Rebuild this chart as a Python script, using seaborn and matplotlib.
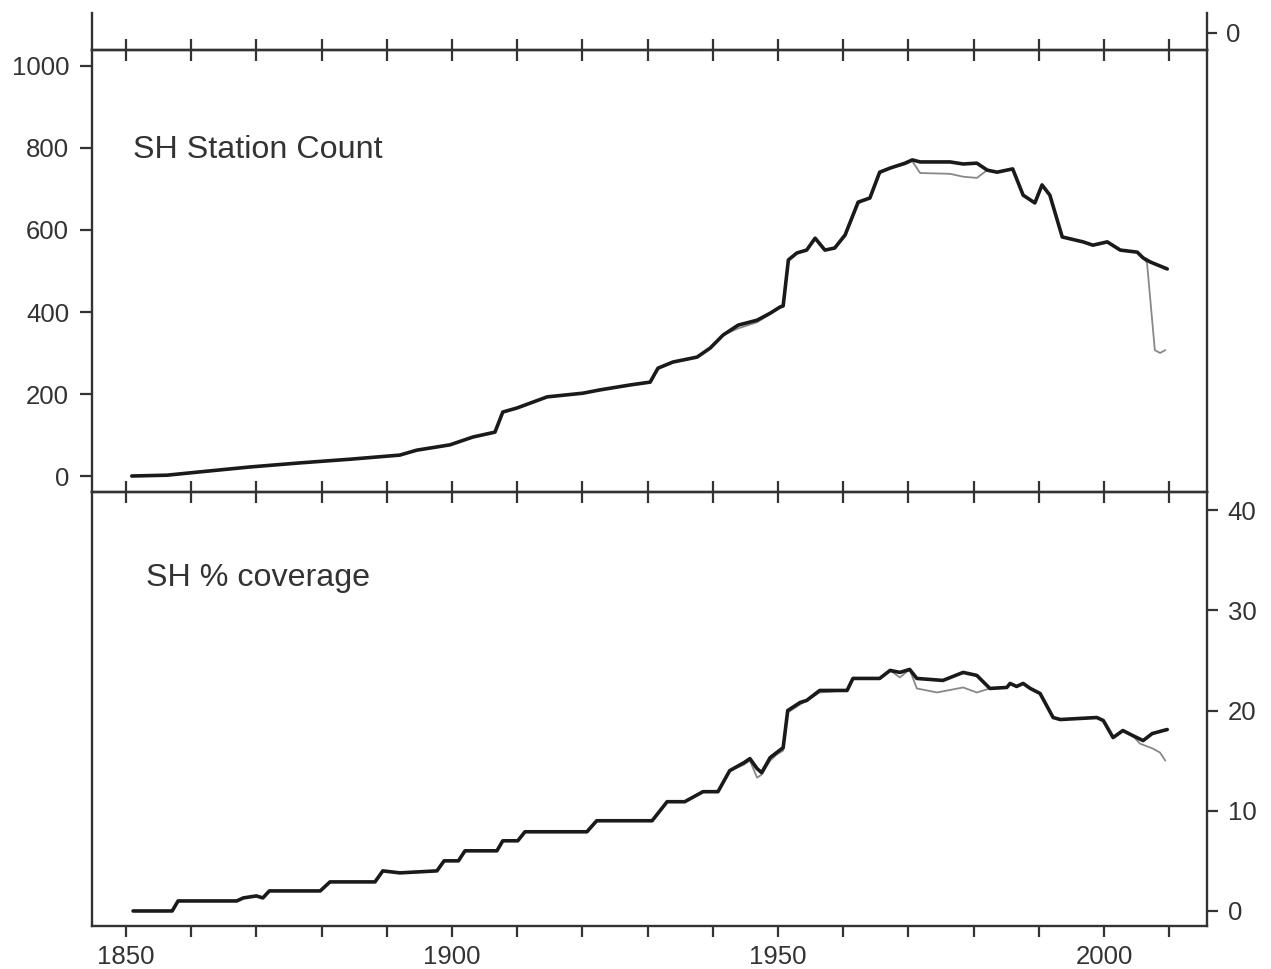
import matplotlib
matplotlib.use("Agg")
import matplotlib.pyplot as plt
import seaborn as sns
import pandas as pd
from matplotlib.ticker import FixedLocator, FuncFormatter

# ---------------- data ----------------
count_years = [1850.9, 1856.3, 1861.3, 1869.0, 1876.7, 1884.4, 1892.0, 1894.6, 1899.7, 1903.2,
               1906.6, 1907.8, 1910.0, 1914.6, 1920.1, 1922.7, 1927.3, 1930.4, 1931.6, 1933.9,
               1937.6, 1939.6, 1941.6, 1943.9, 1946.8, 1948.8, 1950.3, 1950.8, 1951.6, 1952.9,
               1954.4, 1955.7, 1957.2, 1958.7, 1960.3, 1962.3, 1964.1, 1965.6, 1967.2, 1969.5,
               1970.6, 1971.8, 1976.4, 1978.4, 1980.5, 1982.1, 1983.6, 1986.0, 1987.6, 1989.4,
               1990.5, 1991.7, 1993.6, 1996.8, 1998.3, 2000.5, 2002.5, 2005.1, 2006.0, 2007.1,
               2009.7]
count_black = [0, 2, 10, 22, 32, 41, 51, 63, 76, 95,
               107, 156, 166, 193, 202, 210, 222, 229, 263, 278,
               290, 312, 344, 368, 380, 397, 412, 415, 527, 544,
               551, 580, 551, 556, 588, 668, 678, 741, 751, 763,
               771, 766, 766, 761, 763, 746, 741, 749, 685, 666,
               710, 685, 583, 571, 563, 571, 551, 546, 532, 522,
               505]

gray_count_years = [1850.9, 1856.3, 1861.3, 1869.0, 1876.7, 1884.4, 1892.0, 1894.6, 1899.7, 1903.2,
                    1906.6, 1907.8, 1910.0, 1914.6, 1920.1, 1922.7, 1927.3, 1930.4, 1931.6, 1933.9,
                    1937.6, 1939.6, 1941.6, 1943.9, 1946.8, 1948.8, 1950.3, 1950.8, 1951.6, 1952.9,
                    1954.4, 1955.7, 1957.2, 1958.7, 1960.3, 1962.3, 1964.1, 1965.6, 1967.2, 1969.5,
                    1970.6, 1971.8, 1976.4, 1978.4, 1980.5, 1982.1, 1983.6, 1986.0, 1987.6, 1989.4,
                    1990.5, 1991.7, 1993.6, 1996.8, 1998.3, 2000.5, 2002.5, 2005.1, 2006.0, 2006.6,
                    2007.8, 2008.6, 2009.4]
count_gray = [0, 2, 10, 22, 32, 41, 51, 63, 76, 95,
              107, 156, 166, 193, 202, 210, 222, 229, 263, 278,
              290, 312, 344, 360, 375, 395, 410, 413, 527, 544,
              551, 578, 551, 556, 585, 665, 678, 738, 751, 760,
              768, 739, 737, 730, 727, 746, 741, 749, 685, 666,
              710, 685, 583, 571, 563, 571, 551, 546, 532, 520,
              307, 300, 307]

cov_years = [1851.1, 1857.1, 1858.0, 1867.0, 1868.0, 1870.0, 1871.0, 1872.0, 1879.8, 1881.3,
             1888.2, 1889.4, 1892.0, 1897.7, 1898.8, 1901.0, 1902.0, 1906.9, 1907.8, 1910.1,
             1911.2, 1920.7, 1922.2, 1930.7, 1933.0, 1935.7, 1938.5, 1940.8, 1942.6, 1944.8,
             1945.7, 1946.8, 1947.5, 1948.8, 1949.8, 1950.8, 1951.5, 1953.4, 1954.4, 1956.4,
             1960.6, 1961.5, 1965.6, 1967.2, 1968.7, 1970.2, 1971.3, 1975.3, 1978.4, 1980.5,
             1982.5, 1985.1, 1985.6, 1986.6, 1987.6, 1988.7, 1990.2, 1992.2, 1993.3, 1998.9,
             1999.9, 2001.4, 2002.9, 2004.4, 2006.0, 2007.4, 2009.1, 2009.7]
cov_black = [0, 0, 1.0, 1.0, 1.3, 1.5, 1.3, 2.0, 2.0, 2.9,
             2.9, 4.0, 3.8, 4.0, 5.0, 5.0, 6.0, 6.0, 7.0, 7.0,
             7.9, 7.9, 9.0, 9.0, 10.9, 10.9, 11.9, 11.9, 14.0, 14.8,
             15.2, 14.2, 13.8, 15.3, 15.8, 16.3, 20.0, 20.8, 21.0, 22.0,
             22.0, 23.2, 23.2, 24.0, 23.8, 24.1, 23.2, 23.0, 23.8, 23.5,
             22.2, 22.3, 22.7, 22.4, 22.7, 22.2, 21.7, 19.3, 19.1, 19.3,
             19.0, 17.3, 18.0, 17.5, 17.0, 17.7, 18.0, 18.1]

gray_cov_years = [1851.1, 1857.1, 1858.0, 1867.0, 1868.0, 1870.0, 1871.0, 1872.0, 1879.8, 1881.3,
                  1888.2, 1889.4, 1892.0, 1897.7, 1898.8, 1901.0, 1902.0, 1906.9, 1907.8, 1910.1,
                  1911.2, 1920.7, 1922.2, 1930.7, 1933.0, 1935.7, 1938.5, 1940.8, 1942.6, 1944.8,
                  1945.7, 1946.8, 1947.5, 1948.8, 1949.8, 1950.8, 1951.5, 1953.4, 1954.4, 1956.4,
                  1960.6, 1961.5, 1965.6, 1967.2, 1968.7, 1970.2, 1971.3, 1974.4, 1978.4, 1980.5,
                  1982.5, 1985.1, 1985.6, 1986.6, 1987.6, 1988.7, 1990.2, 1992.2, 1993.3, 1998.9,
                  1999.9, 2001.4, 2002.9, 2004.4, 2005.5, 2007.5, 2008.6, 2009.4]
cov_gray = [0, 0, 1.0, 1.0, 1.3, 1.5, 1.3, 2.0, 2.0, 2.9,
            2.9, 4.0, 3.8, 4.0, 5.0, 5.0, 6.0, 6.0, 7.0, 7.0,
            7.9, 7.9, 9.0, 9.0, 10.9, 10.9, 11.9, 11.9, 14.0, 14.6,
            15.0, 13.3, 13.6, 15.0, 15.6, 16.0, 19.8, 20.6, 21.0, 21.8,
            22.0, 23.2, 23.2, 24.0, 23.3, 24.1, 22.2, 21.8, 22.3, 21.8,
            22.2, 22.3, 22.7, 22.4, 22.7, 22.2, 21.7, 19.3, 19.1, 19.3,
            19.0, 17.3, 18.0, 17.5, 16.7, 16.2, 15.8, 15.0]

x_ticks = list(range(1850, 2011, 10))
count_ticks = [0, 200, 400, 600, 800, 1000]
cov_ticks = [0, 10, 20, 30, 40]
panel_labels = ["SH Station Count", "SH % coverage"]

# ---------------- style ----------------
sns.set_theme(style="white")
plt.rcParams["font.family"] = ["Liberation Sans", "DejaVu Sans"]
TXT = "#333333"
SPINE = "#333333"
TICKFS = 18.5
LABELFS = 23.2

W, H = 1271, 969
fig = plt.figure(figsize=(W / 100, H / 100), dpi=100)


def rect(x0, y0, x1, y1):
    return [x0 / W, 1 - y1 / H, (x1 - x0) / W, (y1 - y0) / H]


ax0 = fig.add_axes(rect(92, 13, 1207, 50))
ax1 = fig.add_axes(rect(92, 50, 1207, 492))
ax2 = fig.add_axes(rect(92, 492, 1207, 926))

XL = (1844.8, 2015.8)
for ax in (ax0, ax1, ax2):
    ax.set_facecolor("none")
    ax.set_xlim(*XL)
    for s in ax.spines.values():
        s.set_color(SPINE)
        s.set_linewidth(1.7)
    ax.xaxis.set_major_locator(FixedLocator(x_ticks))

# top strip (bottom of a cropped panel above)
ax0.spines["top"].set_visible(False)
ax0.set_ylim(-17, 20)
ax0.tick_params(axis="x", bottom=True, top=False, direction="inout", length=15.8, width=1.6,
                color=SPINE, labelbottom=False)
ax0.yaxis.tick_right()
ax0.set_yticks([0])
ax0.set_yticklabels(["0"])
ax0.tick_params(axis="y", right=True, left=False, direction="out", length=7, width=1.6,
                color=SPINE, labelsize=TICKFS, labelcolor=TXT, pad=7)

# panel 1: station count
df1g = pd.DataFrame({"year": gray_count_years, "value": count_gray})
df1b = pd.DataFrame({"year": count_years, "value": count_black})
sns.lineplot(data=df1g, x="year", y="value", ax=ax1, color="#888888", linewidth=1.3,
             estimator=None, sort=False, zorder=2)
sns.lineplot(data=df1b, x="year", y="value", ax=ax1, color="#1a1a1a", linewidth=2.6,
             estimator=None, sort=False, zorder=3)
ax1.set_ylim(-39, 1039)
ax1.set_yticks(count_ticks)
ax1.set_yticklabels([str(v) for v in count_ticks])
ax1.tick_params(axis="y", left=True, right=False, direction="out", length=8.5, width=1.6,
                color=SPINE, labelsize=TICKFS, labelcolor=TXT, pad=8)
ax1.tick_params(axis="x", bottom=True, top=False, direction="inout", length=15.8, width=1.6,
                color=SPINE, labelbottom=False)
ax1.set_xlabel("")
ax1.set_ylabel("")
ax1.text(0.0368, 0.774, panel_labels[0], transform=ax1.transAxes, fontsize=LABELFS,
         color=TXT, ha="left", va="center")

# panel 2: coverage
df2g = pd.DataFrame({"year": gray_cov_years, "value": cov_gray})
df2b = pd.DataFrame({"year": cov_years, "value": cov_black})
sns.lineplot(data=df2g, x="year", y="value", ax=ax2, color="#888888", linewidth=1.3,
             estimator=None, sort=False, zorder=2)
sns.lineplot(data=df2b, x="year", y="value", ax=ax2, color="#1a1a1a", linewidth=2.6,
             estimator=None, sort=False, zorder=3)
ax2.set_ylim(-1.5, 41.8)
ax2.yaxis.tick_right()
ax2.set_yticks(cov_ticks)
ax2.set_yticklabels([str(v) for v in cov_ticks])
ax2.tick_params(axis="y", right=True, left=False, direction="out", length=8, width=1.6,
                color=SPINE, labelsize=TICKFS, labelcolor=TXT, pad=7)
ax2.xaxis.set_major_formatter(FuncFormatter(lambda v, p: f"{int(round(v))}" if int(round(v)) % 50 == 0 else ""))
ax2.tick_params(axis="x", bottom=True, top=False, direction="out", length=8, width=1.6,
                color=SPINE, labelsize=TICKFS, labelcolor=TXT, pad=6)
ax2.set_xlabel("")
ax2.set_ylabel("")
ax2.text(0.0484, 0.801, panel_labels[1], transform=ax2.transAxes, fontsize=LABELFS,
         color=TXT, ha="left", va="center")

fig.savefig("out.png", dpi=100)
